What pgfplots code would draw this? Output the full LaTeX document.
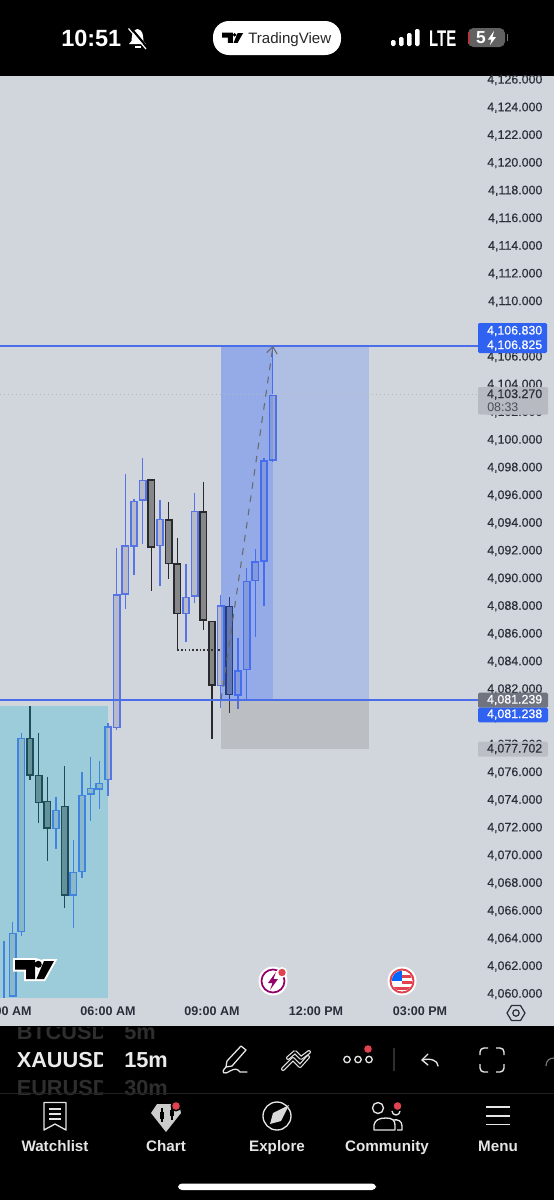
\documentclass[border=0pt]{standalone}
\usepackage{fontspec}
\usepackage{pgfplots}
\pgfplotsset{compat=1.18}
\usetikzlibrary{arrows.meta}
\setmainfont{Liberation Sans}
\newfontfamily\pricefont[FakeBold=0.45]{Liberation Sans}
\definecolor{bgc}{HTML}{D1D5DC}
\definecolor{upline}{HTML}{5674E4}
\definecolor{upfill}{HTML}{B7BAC8}
\definecolor{dnline}{HTML}{2A2A2E}
\definecolor{dnfill}{HTML}{868789}
\definecolor{tvblue}{HTML}{2962FF}
\definecolor{hline}{HTML}{4A6EEA}
\definecolor{tagblue}{HTML}{2F62F0}
\definecolor{txt}{HTML}{2A2E39}
\definecolor{teal}{HTML}{00B4D4}
\definecolor{redd}{HTML}{E0434F}
\tikzset{
 wickU/.style={draw=upline,line width=1.1pt},
 wickD/.style={draw=dnline,line width=1.1pt},
 bodyU/.style={draw=upline,fill=upfill,line width=1.15pt},
 bodyD/.style={draw=dnline,fill=dnfill,line width=1.15pt},
}
% k, high, body top, body bottom, low, U or D
\newcommand\candle[6]{%
 \pgfmathsetmacro\xl{#1-0.37}\pgfmathsetmacro\xr{#1+0.37}%
 \addplot[wick#6] coordinates {(#1,#2)(#1,#5)};
 \addplot[body#6] coordinates {(\xl,#3)(\xr,#3)(\xr,#4)(\xl,#4)} --cycle;
}
\newcommand\logopath{(0,0)--(20,0)--(20,19)--(11,19)--(11,9.5)--(0,9.5)--cycle (29,1)--(39,1)--(29,19)--(21.5,19)--cycle (23.3,4.3) circle (3.5)}
\begin{document}
\begin{tikzpicture}
\useasboundingbox (0pt,0pt) rectangle (415.5pt,-900pt);
\begin{scope}[x=0.75pt,y=-0.75pt]
\fill[black] (0,0) rectangle (554,1200);
\fill[bgc] (0,76) rectangle (554,1026);
\end{scope}
\begin{axis}[
 at={(0pt,-747.75pt)},anchor=south west,
 width=358.5pt,height=690.75pt,scale only axis,
 xmin=-0.4615,xmax=54.69,
 ymin=4059.79,ymax=4126.289,
 axis line style={draw=none},
 major tick length=0pt,
 xtick={0,12,24,36,48},
 xticklabels={03:00 AM,06:00 AM,09:00 AM,12:00 PM,03:00 PM},
 ytick={4060,4062,...,4126},
 yticklabel pos=right,
 scaled y ticks=false,
 yticklabel style={anchor=east,inner sep=0pt,xshift=48.5pt,text=txt,font=\pricefont\fontsize{9.3}{11}\selectfont,
   /pgf/number format/.cd,fixed,fixed zerofill,precision=3,1000 sep={,},assume math mode=true},
 xticklabel style={anchor=center,inner sep=0pt,yshift=-11pt,text=txt,font=\bfseries\fontsize{9.4}{11}\selectfont},
 clip=true,
]
\candle{0}{4063.86}{4059}{4055}{4055}{U}
\candle{1}{4065.18}{4064.39}{4059.88}{4059.80}{U}
\candle{2}{4078.83}{4078.47}{4064.51}{4064.19}{U}
\candle{3}{4080.80}{4078.44}{4075.82}{4075.46}{D}
\candle{4}{4078.83}{4075.77}{4073.82}{4072.38}{D}
\candle{5}{4075.70}{4073.92}{4072.01}{4069.63}{D}
\candle{6}{4074.25}{4073.24}{4071.97}{4070.48}{U}
\candle{7}{4076.47}{4073.53}{4067.16}{4066.24}{D}
\candle{8}{4071.13}{4068.79}{4067.16}{4064.75}{U}
\candle{9}{4076.04}{4074.33}{4068.84}{4068.40}{U}
\candle{10}{4077.10}{4074.83}{4074.43}{4072.50}{U}
\candle{11}{4076.83}{4075.22}{4074.81}{4073.34}{U}
\candle{12}{4079.55}{4079.29}{4075.51}{4074.33}{U}
\candle{13}{4092.19}{4088.82}{4079.26}{4079.07}{U}
\candle{14}{4097.55}{4092.35}{4088.87}{4087.81}{U}
\candle{15}{4095.73}{4095.58}{4092.35}{4090.26}{U}
\candle{16}{4098.69}{4097.07}{4095.68}{4092.48}{U}
\candle{17}{4097.12}{4097.12}{4092.30}{4089.13}{D}
\candle{18}{4095.68}{4094.28}{4092.40}{4089.47}{U}
\candle{19}{4095.51}{4094.23}{4091.10}{4089.95}{D}
\candle{20}{4092.95}{4091.05}{4087.49}{4084.90}{D}
\candle{21}{4091.05}{4088.65}{4087.49}{4085.40}{U}
\candle{22}{4096.16}{4094.86}{4088.74}{4088.22}{U}
\candle{23}{4097.00}{4094.79}{4087.01}{4086.29}{D}
\candle{24}{4086.89}{4086.89}{4082.30}{4078.40}{D}
\candle{25}{4088.82}{4088.04}{4082.27}{4080.64}{U}
\candle{26}{4088.65}{4087.97}{4081.62}{4080.27}{D}
\candle{27}{4085.73}{4083.33}{4081.60}{4080.56}{U}
\candle{28}{4090.74}{4089.78}{4083.45}{4081.23}{U}
\candle{29}{4092.12}{4091.18}{4089.85}{4085.81}{U}
\candle{30}{4098.69}{4098.49}{4091.29}{4088.02}{U}
\candle{31}{4106.82}{4103.21}{4098.56}{4098.40}{U}
% drawings
\addplot[fill=teal,fill opacity=.25,draw=none] coordinates {(-0.5,4080.80)(12,4080.80)(12,4059)(-0.5,4059)} --cycle;
\addplot[fill=tvblue,fill opacity=.2,draw=none] coordinates {(25.04,4106.825)(42.11,4106.825)(42.11,4081.238)(25.04,4081.238)} --cycle;
\addplot[fill=tvblue,fill opacity=.2,draw=none] coordinates {(25.04,4106.825)(31.04,4106.825)(31.04,4081.238)(25.04,4081.238)} --cycle;
\addplot[fill={rgb,255:red,100;green,100;blue,90},fill opacity=.2,draw=none] coordinates {(25.04,4081.238)(42.11,4081.238)(42.11,4077.702)(25.04,4077.702)} --cycle;
\addplot[draw=hline,line width=1pt] coordinates {(-0.5,4106.80)(54.7,4106.80)};
\addplot[draw=hline,line width=1pt] coordinates {(-0.5,4081.238)(54.7,4081.238)};
\addplot[draw=gray!55,line width=0.5pt,dash pattern=on 1pt off 2pt] coordinates {(-0.5,4103.27)(54.7,4103.27)};
\addplot[draw=black!80,line width=0.9pt,dash pattern=on 1.2pt off 1.6pt] coordinates {(20,4084.84)(25,4084.84)};
\addplot[draw=black!50!bgc,line width=0.8pt,dash pattern=on 5pt off 5pt,-{Straight Barb[length=5pt,width=8pt]}] coordinates {(25.04,4081.24)(31.04,4106.8)};
\end{axis}
\begin{scope}[x=0.75pt,y=-0.75pt]
% --- TradingView mark on the chart
\begin{scope}[shift={(15,960)}]
 \draw[white,fill=white,line width=3pt,line join=miter] \logopath;
 \fill[black] \logopath;
\end{scope}
% --- event icons
\fill[white] (273,981) circle (14.5);
\draw[violet!70!purple,line width=1.3pt] (273,981) circle (11.5);
\fill[violet!70!purple] (276,972)--(268,983)--(272.5,983)--(270,990)--(278,979)--(273.5,979)--cycle;
\fill[white] (282,972.5) circle (5.5);\fill[redd] (282,972.5) circle (3.7);
\fill[white] (402,981) circle (14.5);
\draw[redd,line width=1.5pt] (402,981) circle (11.5);
\begin{scope}
 \clip (402,981) circle (10.3);
 \fill[white] (390,970) rectangle (414,992);
 \fill[redd] (402,975) rectangle (414,978);\fill[redd] (402,981) rectangle (414,984);\fill[redd] (390,987) rectangle (414,990);
 \fill[blue!60!cyan] (390,970) rectangle (402,981);
\end{scope}
% hexagon settings
\draw[txt,line width=0.9pt,line join=round] (507,1013)--(511.5,1005.5)--(520.5,1005.5)--(525,1013)--(520.5,1020.5)--(511.5,1020.5)--cycle;
\draw[txt,line width=0.9pt] (516,1013) circle (3.2);
% --- price tags
\fill[tagblue,rounded corners=1pt] (478,323) rectangle (547,353);
\node[anchor=east,inner sep=0,white,font=\pricefont\fontsize{9.3}{11}\selectfont] at (542.5,331) {4,106.830};
\node[anchor=east,inner sep=0,white,font=\pricefont\fontsize{9.3}{11}\selectfont] at (542.5,345.5) {4,106.825};
\fill[fill={rgb,255:red,184;green,186;blue,193},rounded corners=1pt] (478,387) rectangle (548,414.5);
\node[anchor=east,inner sep=0,txt,font=\pricefont\fontsize{9.3}{11}\selectfont] at (542.5,394.5) {4,103.270};
\node[anchor=west,inner sep=0,txt!85!white,font=\fontsize{9.3}{11}\selectfont] at (487,407) {08:33};
\fill[fill={rgb,255:red,112;green,116;blue,128},rounded corners=1pt] (478,692.7) rectangle (548,707.7);
\node[anchor=east,inner sep=0,white,font=\pricefont\fontsize{9.3}{11}\selectfont] at (542.5,700) {4,081.239};
\fill[tagblue,rounded corners=1pt] (478,707.7) rectangle (548,722.3);
\node[anchor=east,inner sep=0,white,font=\pricefont\fontsize{9.3}{11}\selectfont] at (542.5,714.5) {4,081.238};
\fill[fill={rgb,255:red,188;green,190;blue,197},rounded corners=1pt] (478,741.7) rectangle (548,756.7);
\node[anchor=east,inner sep=0,txt,font=\pricefont\fontsize{9.3}{11}\selectfont] at (542.5,749) {4,077.702};
% --- status bar
\node[anchor=west,inner sep=0,white,font=\bfseries\fontsize{17.6}{20}\selectfont] at (61,38) {10:51};
\fill[white] (137.5,29) .. controls (132,30) and (132,35) .. (131.5,41) -- (129,44) -- (146,44) -- (143.5,41) .. controls (143,35) and (143,30) .. (137.5,29);
\fill[white] (134.5,45.5) rectangle (140.5,47.5);
\draw[black,line width=1.6pt] (130,27)--(147,47);
\draw[white,line width=0.9pt] (128.5,28.5)--(146,49);
\fill[white,rounded corners=12pt] (213,21) rectangle (341,55);
\begin{scope}[shift={(222,32.5)},scale=0.54]
 \fill[black] \logopath;
\end{scope}
\node[anchor=base west,inner sep=0,black!85,font=\fontsize{11.3}{13}\selectfont] at (248,43) {TradingView};
\foreach \x/\t in {391/40,399/37,407/33,415/29}{\fill[white,rounded corners=1pt] (\x,\t) rectangle ++(4.5,46-\t);}
\node[anchor=west,inner sep=0,white,xscale=.66,font=\bfseries\fontsize{17}{19}\selectfont] at (429,38.5) {LTE};
\fill[fill=black!62!white,rounded corners=4pt] (468,28) rectangle (505,47);
\fill[redd!80!black] (468,32) rectangle (470,44);
\fill[black!55!white] (506.5,34) rectangle (508,41);
\node[anchor=center,inner sep=0,white,font=\bfseries\fontsize{13}{15}\selectfont] at (481,38) {5};
\fill[white] (494,31)--(488,39.5)--(491.5,39.5)--(490,45)--(496,37)--(492.5,37)--cycle;
% --- toolbar
\begin{scope}
 \clip (0,1027) rectangle (102,1100);
 \node[anchor=west,inner sep=0,white!92!black,font=\bfseries\fontsize{16.3}{19}\selectfont] at (16.5,1060) {XAUUSD};
 \node[anchor=west,inner sep=0,black!82!white,font=\bfseries\fontsize{16.3}{19}\selectfont] at (16.5,1032) {BTCUSD};
 \node[anchor=west,inner sep=0,black!82!white,font=\bfseries\fontsize{16.3}{19}\selectfont] at (16.5,1087.7) {EURUSD};
\end{scope}
\begin{scope}
 \clip (100,1027) rectangle (200,1100);
 \node[anchor=west,inner sep=0,white!92!black,font=\bfseries\fontsize{16.3}{19}\selectfont] at (124,1060) {15m};
 \node[anchor=west,inner sep=0,black!82!white,font=\bfseries\fontsize{16.3}{19}\selectfont] at (124,1032) {5m};
 \node[anchor=west,inner sep=0,black!82!white,font=\bfseries\fontsize{16.3}{19}\selectfont] at (124,1087.7) {30m};
\end{scope}
% pen
\draw[white!90!black,line width=0.95pt,line join=round] (241,1046)--(246,1050)--(232,1066)--(226,1067)--(227,1061)--cycle;
\draw[white!90!black,line width=0.95pt,line cap=round] (226,1067) .. controls (220,1073) and (224,1075) .. (230,1071) .. controls (235,1068) and (238,1069) .. (240,1072)--(247,1072);
% trend icon
\draw[white!90!black,line width=3pt,line cap=round,line join=round] (283,1069)--(293,1059)--(300,1066)--(308,1057);
\draw[black,line width=1.2pt,line cap=round,line join=round] (283,1069)--(293,1059)--(300,1066)--(308,1057);
\draw[white!90!black,line width=3pt,line cap=round,line join=round] (288,1058)--(295,1052)--(301,1058)--(309,1052);
\draw[black,line width=1.2pt,line cap=round,line join=round] (288,1058)--(295,1052)--(301,1058)--(309,1052);
% dots
\foreach \x in {347,358,369}{\draw[white!90!black,line width=1pt] (\x,1059.5) circle (3.2);}
\fill[redd] (368,1049) circle (3.8);
\draw[white!18!black,line width=0.8pt] (394,1048)--(394,1071);
% undo
\draw[white!90!black,line width=1pt,line cap=round,line join=round] (428,1054)--(422,1060)--(428,1065);
\draw[white!90!black,line width=1pt,line cap=round] (422,1060) .. controls (430,1058) and (438,1060) .. (438,1066);
% fullscreen
\begin{scope}[white!90!black,line width=1.05pt,rounded corners=3pt]
 \draw (480,1055)--(480,1048)--(488,1048);
 \draw (496,1048)--(504,1048)--(504,1055);
 \draw (480,1064)--(480,1072)--(488,1072);
 \draw (496,1072)--(504,1072)--(504,1064);
\end{scope}
\draw[black!55!white,line width=0.9pt] (546,1066) .. controls (546,1060) and (550,1058) .. (554,1058);
\draw[white!13!black,line width=0.6pt] (0,1093)--(554,1093);
% --- tab bar
\begin{scope}[white!90!black,line width=1pt,line join=round]
 \draw (44,1102.5)--(66,1102.5)--(66,1130)--(55,1124)--(44,1130)--cycle;
 \draw (49,1109)--(61,1109) (49,1114)--(61,1114) (49,1119)--(61,1119);
 \draw (277,1116) circle (14);
 \fill[white!85!black] (289,1105)--(281,1121)--(270,1124)--(273,1113)--cycle;
 \draw (378,1108) circle (5.5);
 \draw (374,1130)--(374,1125) .. controls (375,1120) and (379,1118) .. (386,1118) .. controls (392,1118) and (395,1120) .. (395,1125)--(395,1130)--cycle;
 \draw (392,1111) arc (180:0:4);
 \draw (393,1120) .. controls (398,1119) and (402,1121) .. (402,1126)--(402,1130)--(397,1130);
 \draw[line width=1.1pt] (486,1107)--(510,1107) (486,1116)--(510,1116) (486,1124.5)--(510,1124.5);
\end{scope}
\fill[white!80!black] (151,1113)--(157,1104)--(179,1104)--(181,1113)--(166,1132)--cycle;
\draw[black,line width=1pt] (162,1108)--(162,1122) (172,1107)--(172,1120);
\fill[black] (160,1112) rectangle (164,1119);
\fill[black] (170,1110) rectangle (174,1116);
\fill[black] (176,1106) circle (5.5);\fill[redd] (176,1106) circle (3.8);
\fill[black] (397.5,1106) circle (5.5);\fill[redd] (397.5,1106) circle (3.8);
\foreach \x/\s in {55/Watchlist,166/Chart,277/Explore,387/Community,498/Menu}{
 \node[anchor=base,inner sep=0,white!90!black,font=\bfseries\fontsize{11.4}{13}\selectfont] at (\x,1151) {\s};}
\fill[white,rounded corners=3pt] (178,1183.5) rectangle (376,1190);
\end{scope}
\end{tikzpicture}
\end{document}
